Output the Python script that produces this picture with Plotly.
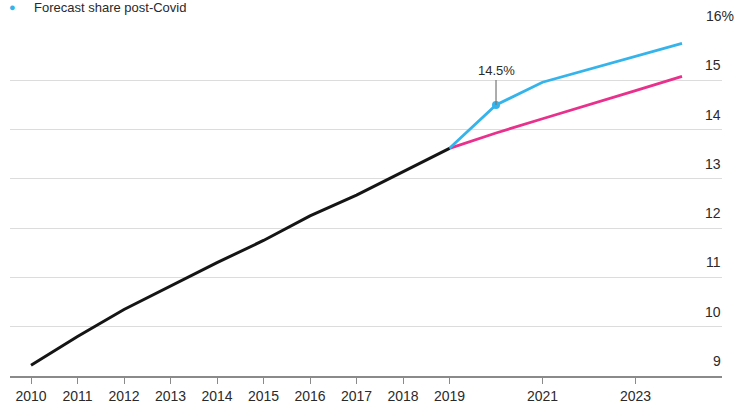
import plotly.graph_objects as go

# Actual share up to 2019, then two forecasts from 2019 onward
years_actual = [2010, 2011, 2012, 2013, 2014, 2015, 2016, 2017, 2018, 2019]
share_actual = [9.22, 9.8, 10.35, 10.83, 11.3, 11.75, 12.25, 12.67, 13.15, 13.62]

years_forecast = [2019, 2020, 2021, 2022, 2023, 2024]
share_post_covid = [13.62, 14.5, 14.96, 15.22, 15.49, 15.75]
share_pre_covid = [13.62, 13.93, 14.22, 14.5, 14.79, 15.08]

x_tick_vals = [2010, 2011, 2012, 2013, 2014, 2015, 2016, 2017, 2018, 2019, 2021, 2023]
y_tick_vals = [9, 10, 11, 12, 13, 14, 15, 16]
y_tick_text = ["9", "10", "11", "12", "13", "14", "15", "16%"]

BLACK = "#151515"
BLUE = "#35b4ec"
PINK = "#e8308c"
FONT = "Liberation Sans, Arial, sans-serif"
TEXT = "#2a2a2a"

fig = go.Figure()
fig.add_trace(go.Scatter(x=years_forecast, y=share_pre_covid, mode="lines",
                         line=dict(color=PINK, width=2.8), hoverinfo="skip"))
fig.add_trace(go.Scatter(x=years_forecast, y=share_post_covid, mode="lines",
                         line=dict(color=BLUE, width=2.8), hoverinfo="skip"))
fig.add_trace(go.Scatter(x=years_actual, y=share_actual, mode="lines",
                         line=dict(color=BLACK, width=3), hoverinfo="skip"))
fig.add_trace(go.Scatter(x=[years_forecast[1]], y=[share_post_covid[1]], mode="markers",
                         marker=dict(color=BLUE, size=8, symbol="circle"), hoverinfo="skip"))

annotations = []
# Right-hand value labels sitting above each gridline
for v, t in zip(y_tick_vals, y_tick_text):
    annotations.append(dict(
        x=1, xref="paper", y=v, yref="y", text=t, showarrow=False,
        xanchor="right", yanchor="bottom", yshift=5,
        xshift=14 if t.endswith("%") else 1,
        font=dict(family=FONT, size=14, color=TEXT)))

# Callout for the 2020 post-Covid value
annotations.append(dict(
    x=years_forecast[1], y=share_post_covid[1], xref="x", yref="y",
    text=f"{share_post_covid[1]}%", showarrow=True, arrowhead=0, arrowwidth=1.2,
    arrowcolor="#777777", ax=0, ay=-34, standoff=0,
    font=dict(family=FONT, size=13, color=TEXT)))

# Legend line along the top edge
annotations.append(dict(
    x=0, xref="paper", y=1, yref="paper", text="●", showarrow=False,
    xanchor="center", yanchor="middle", xshift=2, yshift=24,
    font=dict(family=FONT, size=11, color=BLUE)))
annotations.append(dict(
    x=0, xref="paper", y=1, yref="paper", text="Forecast share post-Covid",
    showarrow=False, xanchor="left", yanchor="middle", xshift=22, yshift=24,
    font=dict(family=FONT, size=13, color=TEXT)))

fig.update_layout(
    width=749, height=414,
    margin=dict(l=10, r=27, t=31, b=34),
    paper_bgcolor="white", plot_bgcolor="white",
    showlegend=False,
    annotations=annotations,
    xaxis=dict(
        range=[2009.548, 2024.86], tickvals=x_tick_vals,
        ticktext=[str(v) for v in x_tick_vals],
        showgrid=False, zeroline=False,
        showline=True, linecolor="#8a8a8a", linewidth=1.6,
        ticks="outside", ticklen=6, tickcolor="#8a8a8a", tickwidth=1,
        tickfont=dict(family=FONT, size=14, color=TEXT),
        fixedrange=True),
    yaxis=dict(
        range=[9, 16], tickvals=y_tick_vals, showticklabels=False,
        showgrid=True, gridcolor="#dcdcdc", gridwidth=1,
        zeroline=False, showline=False, ticks="", fixedrange=True),
)

fig.write_html("out.html")
